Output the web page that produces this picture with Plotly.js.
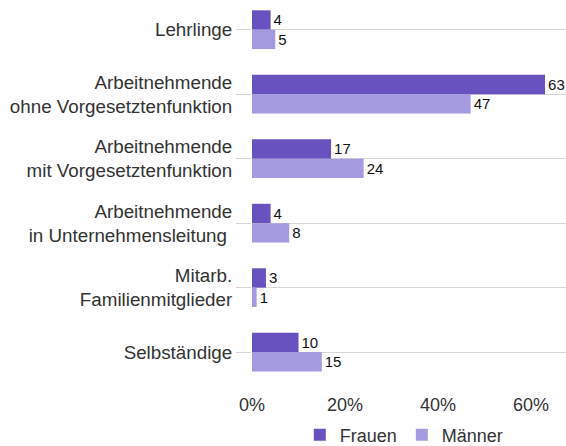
<!DOCTYPE html>
<html>
<head>
<meta charset="utf-8">
<script src="https://cdn.plot.ly/plotly-3.0.1.min.js"></script>
<style>html,body{margin:0;padding:0;background:#fff;}#chart{width:566px;height:446px;}</style>
</head>
<body>
<div id="chart"></div>
<script>
const categories = [
  "Lehrlinge",
  "Arbeitnehmende<br>ohne Vorgesetztenfunktion",
  "Arbeitnehmende<br>mit Vorgesetztenfunktion",
  "Arbeitnehmende<br>in Unternehmensleitung&nbsp;",
  "Mitarb.<br>Familienmitglieder",
  "Selbständige"
];
const frauen = [4, 63, 17, 4, 3, 10];
const maenner = [5, 47, 24, 8, 1, 15];
const tickVals = [0, 20, 40, 60];
const tickText = ["0%", "20%", "40%", "60%"];

const font = "Liberation Sans, Arial, sans-serif";
const traces = [
  {type: "bar", orientation: "h", name: "Frauen", y: categories, x: frauen,
   marker: {color: "#6752BF"}, text: frauen.map(String), textposition: "outside",
   textfont: {size: 15, color: "#111", family: font}, cliponaxis: false},
  {type: "bar", orientation: "h", name: "Männer", y: categories, x: maenner,
   marker: {color: "#A39AE0"}, text: maenner.map(String), textposition: "outside",
   textfont: {size: 15, color: "#111", family: font}, cliponaxis: false}
];
const layout = {
  width: 566, height: 446,
  margin: {l: 252, r: 0, t: 0, b: 61, autoexpand: false},
  paper_bgcolor: "#fff", plot_bgcolor: "#fff",
  font: {family: font, size: 18, color: "#333"},
  barmode: "group", bargap: 0.4, bargroupgap: 0,
  showlegend: true,
  legend: {orientation: "h", x: 0.485, xanchor: "center", y: -0.13, yanchor: "middle",
           font: {size: 18, color: "#333"}, itemwidth: 30, traceorder: "normal"},
  xaxis: {range: [0, 67.5], tickvals: tickVals, ticktext: tickText, showgrid: false,
          zeroline: false, showline: false, ticks: "", ticklabelstandoff: 7,
          tickfont: {size: 18, color: "#333"}},
  yaxis: {type: "category", range: [5.51, -0.46], showgrid: true, gridcolor: "#d6d6d6",
          gridwidth: 1, ticks: "outside", ticklen: 15, tickcolor: "#d6d6d6", tickwidth: 1,
          zeroline: false, showline: false, ticklabelstandoff: 0,
          tickfont: {size: 18.8, color: "#333"}}
};
Plotly.newPlot("chart", traces, layout, {displayModeBar: false, staticPlot: true});
</script>
</body>
</html>
